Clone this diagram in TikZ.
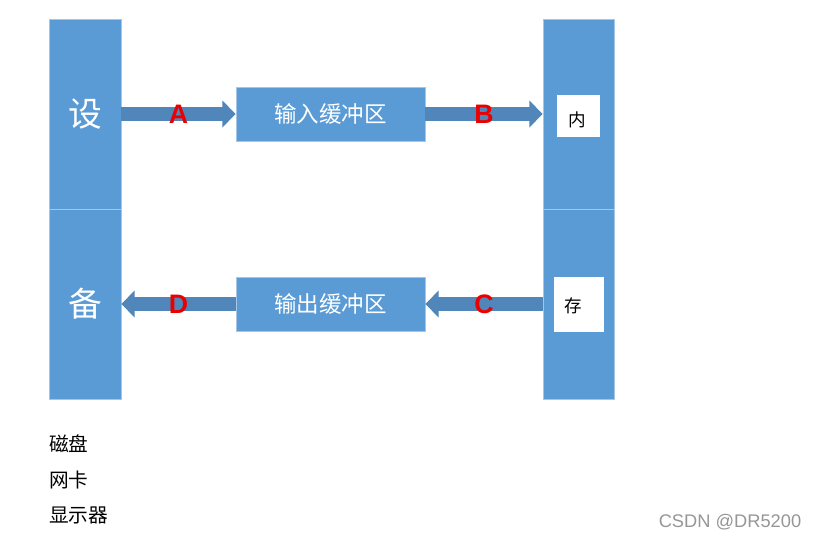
\documentclass[tikz,border=0pt]{standalone}
\usepackage{fontspec}
\usepackage{tikz}
\usetikzlibrary{arrows.meta,positioning}
\newfontfamily\cjk{Noto Sans CJK SC}
\newfontfamily\lsans{Liberation Sans}
\definecolor{barblue}{RGB}{91,155,213}
\definecolor{baredge}{RGB}{165,198,230}
\definecolor{arrblue}{RGB}{80,134,186}
\definecolor{lblred}{RGB}{235,0,0}
\definecolor{wmgray}{RGB}{150,150,150}
\tikzset{
  bar/.style={draw=baredge, fill=barblue, line width=0.6pt, inner sep=0pt,
              minimum width=1.8cm, minimum height=4.75cm, text=white,
              font=\cjk\fontsize{24}{26}\selectfont},
  bufbox/.style={draw=baredge, fill=barblue, line width=0.6pt, inner sep=0pt,
                 minimum width=4.725cm, minimum height=1.35cm, text=white,
                 font=\cjk\fontsize{16}{18}\selectfont},
  membox/.style={fill=white, inner sep=0pt},
  memtext/.style={font=\cjk\fontsize{12.5}{14}\selectfont, inner sep=0pt},
  fatarr/.style={-{Triangle[length=0.33cm,width=0.66cm]}, arrblue, line width=0.35cm},
  arrlbl/.style={text=lblred, font=\lsans\bfseries\fontsize{19}{21}\selectfont, inner sep=0pt},
  devlist/.style={anchor=west, inner sep=0pt, font=\cjk\fontsize{14}{16}\selectfont},
}
\begin{document}
\begin{tikzpicture}[x=0.025cm, y=-0.025cm]
  \useasboundingbox (0,0) rectangle (817,541);
  % --- device and memory bars
  \node[bar] (devTop) at (85,114) {设};
  \node[bar] (devBot) at (85,304) {备};
  \node[bar, minimum width=1.775cm] (memTop) at (578.5,114) {};
  \node[bar, minimum width=1.775cm] (memBot) at (578.5,304) {};
  \node[membox, minimum width=1.075cm, minimum height=1.05cm] (memIn) at (578.5,116) {};
  \node[memtext] (memInTxt) at (577,120) {内};
  \node[membox, minimum width=1.25cm, minimum height=1.375cm] (memCun) at (579,304.5) {};
  \node[memtext] (memCunTxt) at (573,306) {存};
  % --- buffers
  \node[bufbox] (inBuf) at (330.5,114) {输入缓冲区};
  \node[bufbox] (outBuf) at (330.5,304) {输出缓冲区};
  % --- arrows
  \draw[fatarr] (devTop.east |- inBuf.west) -- (inBuf.west)
        node[arrlbl, midway] (lblA) {A};
  \draw[fatarr] (inBuf.east) -- (memTop.west |- inBuf.east)
        node[arrlbl, midway] (lblB) {B};
  \draw[fatarr] (memBot.west |- outBuf.east) -- (outBuf.east)
        node[arrlbl, midway] (lblC) {C};
  \draw[fatarr] (outBuf.west) -- (devBot.east |- outBuf.west)
        node[arrlbl, midway] (lblD) {D};
  % --- device list
  \node[devlist] (disk) at (49,444) {磁盘};
  \node[devlist] (nic) at (49,480) {网卡};
  \node[devlist] (screen) at (49,515) {显示器};
  \node[text=wmgray, font=\lsans\fontsize{13}{15}\selectfont, inner sep=0pt] (wmark) at (730,522) {CSDN @DR5200};
\end{tikzpicture}
\end{document}
